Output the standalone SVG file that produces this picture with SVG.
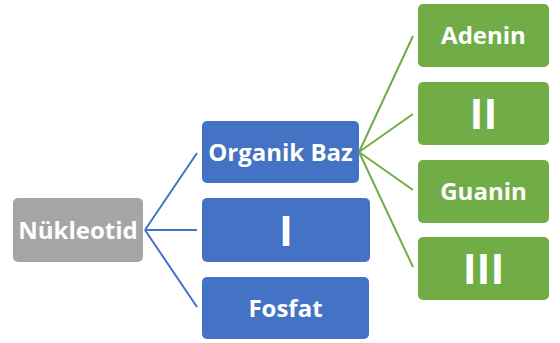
<svg xmlns="http://www.w3.org/2000/svg" width="560" height="343" viewBox="0 0 560 343">
<style>
.t{font-family:"Open Sans","Liberation Sans",sans-serif;font-weight:bold;fill:#fff;text-anchor:middle;dominant-baseline:central}
.s{font-size:24px}
.b{font-size:42px}
.bl{stroke:#4472C4;stroke-width:2;fill:none}
.gl{stroke:#70AD47;stroke-width:2;fill:none}
</style>
<rect width="560" height="343" fill="#fff"/>
<g id="connectors">
<path class="bl" d="M145 230 L197 153 M145 230 L197 230 M145 230 L197 307"/>
<path class="gl" d="M359 152 L413 36 M359 152 L413 114 M359 152 L413 190 M359 152 L413 267"/>
</g>
<g id="n-nukleotid"><rect x="13" y="198" width="130" height="64" rx="5" fill="#A5A5A5"/><text class="t s" x="78" y="229">Nükleotid</text></g>
<g id="n-organik"><rect x="202" y="121" width="157" height="62" rx="5" fill="#4472C4"/><text class="t s" x="280.5" y="151">Organik Baz</text></g>
<g id="n-i"><rect x="202" y="198" width="168" height="64" rx="5" fill="#4472C4"/><text class="t b" x="286" y="229">I</text></g>
<g id="n-fosfat"><rect x="202" y="277" width="167" height="62" rx="5" fill="#4472C4"/><text class="t s" x="285.5" y="307">Fosfat</text></g>
<g id="n-adenin"><rect x="418" y="4" width="131" height="63" rx="5" fill="#70AD47"/><text class="t s" x="483.5" y="34.5">Adenin</text></g>
<g id="n-ii"><rect x="418" y="82" width="131" height="63" rx="5" fill="#70AD47"/><text class="t b" x="483.5" y="112.5">II</text></g>
<g id="n-guanin"><rect x="418" y="160" width="131" height="63" rx="5" fill="#70AD47"/><text class="t s" x="483.5" y="190.5">Guanin</text></g>
<g id="n-iii"><rect x="418" y="237" width="131" height="63" rx="5" fill="#70AD47"/><text class="t b" x="483.5" y="267.5">III</text></g>
</svg>
